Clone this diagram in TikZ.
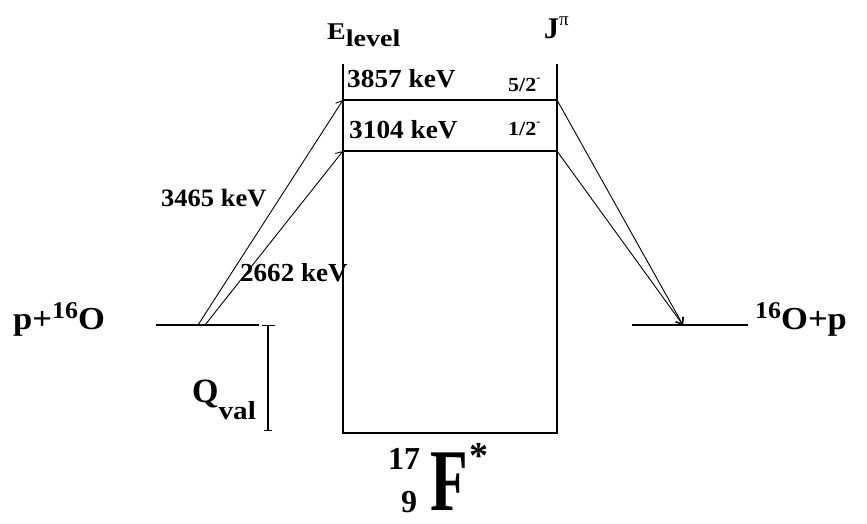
\documentclass[tikz,border=0pt]{standalone}
\usepackage{fontspec}
\usepackage{graphicx}
\setmainfont{Liberation Serif}
\usetikzlibrary{arrows.meta}
\newcommand{\fs}[1]{\fontsize{#1}{#1}\selectfont}
\begin{document}
\begin{tikzpicture}[x=1pt,y=-1pt,
  lbl/.style={inner sep=0pt, anchor=base west, font=\bfseries},
  lvl/.style={line width=1.2pt},
  trans/.style={line width=0.9pt, -{Straight Barb[length=6pt,width=9pt]}}]
\useasboundingbox[fill=white] (0,0) rectangle (867,523);
% level scheme coordinates
\coordinate (bl) at (343,433);
\coordinate (br) at (557,433);
\coordinate (tl) at (343,64);
\coordinate (tr) at (557,64);
\coordinate (a1) at (343,100);
\coordinate (b1) at (557,100);
\coordinate (a2) at (343,151);
\coordinate (b2) at (557,151);
\coordinate (pl) at (156,325);
\coordinate (pr) at (259,325);
\coordinate (s1) at (198,325);
\coordinate (s2) at (205,325);
\coordinate (ql) at (632,325);
\coordinate (qr) at (748,325);
\coordinate (e) at (683,325);
\coordinate (qt) at (268,325);
\coordinate (qb) at (268,431);
% box and levels
\draw[lvl] (tl) -- (bl) -- (br) -- (tr);
\draw[lvl] (a1) -- (b1);
\draw[lvl] (a2) -- (b2);
\draw[lvl] (pl) -- (pr);
\draw[lvl] (ql) -- (qr);
% Q value bar
\draw[lvl, {Bar[width=13pt]}-{Bar[width=8pt]}] (qt) -- (qb);
% transitions
\draw[trans] (s1) -- (a1);
\draw[trans] (s2) -- (a2);
\draw[trans] (b1) -- (e);
\draw[trans] (b2) -- (e);
% labels
\node[lbl] (elev) at (327,39) {\scalebox{1.17}[1]{\fs{24}E\raisebox{-7pt}{level}}};
\node[lbl] (jpi) at (544,38) {\fs{30}J\raisebox{13pt}{\fs{19}\textmd{π}}};
\node[lbl] (t1) at (347,87) {\scalebox{1.05}[1]{\fs{26}3857 keV}};
\node[lbl] (t2) at (349,138) {\scalebox{1.05}[1]{\fs{26}3104 keV}};
\node[lbl] (j1) at (508,91) {\scalebox{1.1}[1]{\fs{20}5/2}\raisebox{10pt}{\fs{12}-}};
\node[lbl] (j2) at (508,135) {\scalebox{1.1}[1]{\fs{20}1/2}\raisebox{10pt}{\fs{12}-}};
\node[lbl] (e1) at (161,206) {\scalebox{1.06}[1]{\fs{25}3465 keV}};
\node[lbl] (e2) at (240,281) {\scalebox{1.04}[1]{\fs{26}2662 keV}};
\node[lbl] (in) at (13,329) {\scalebox{1.08}[1]{\fs{32}p+\raisebox{11pt}{\fs{24}16}O}};
\node[lbl] (out) at (755,329) {\scalebox{1.08}[1]{\fs{32}\raisebox{11pt}{\fs{24}16}O+p}};
\node[lbl] (qv) at (192,402) {\fs{34}Q\raisebox{-17pt}{\scalebox{1.12}[1]{\fs{26}val}}};
\node[lbl] (mass) at (388,469) {\fs{32}17};
\node[lbl] (charge) at (401,512) {\fs{32}9};
\node[lbl] (f) at (430,510) {\scalebox{0.7}[1]{\fs{88}F}};
\node[inner sep=0pt, anchor=north west, font=\bfseries] (star) at (469,443) {\fs{38}*};
\end{tikzpicture}
\end{document}
